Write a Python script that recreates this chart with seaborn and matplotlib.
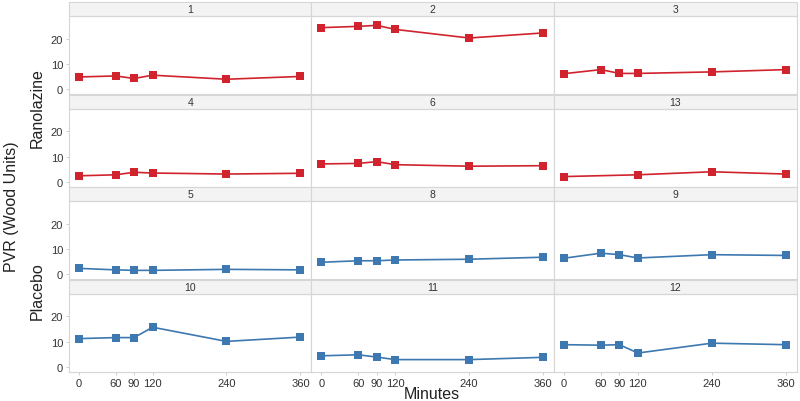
import seaborn as sns
import matplotlib.pyplot as plt
import pandas as pd
from matplotlib.patches import Rectangle

sns.set_style('white')
plt.rcParams['font.family'] = ['Liberation Sans', 'DejaVu Sans']

# Data
minutes = [0, 60, 90, 120, 240, 360]
minutes_13 = [0, 120, 240, 360]

ranolazine_patients = ['1', '2', '3', '4', '6', '13']
placebo_patients = ['5', '8', '9', '10', '11', '12']

pvr_1 = [4.9, 5.3, 4.3, 5.6, 4.0, 5.1]
pvr_2 = [24.4, 24.9, 25.3, 23.7, 20.3, 22.3]
pvr_3 = [6.2, 7.8, 6.3, 6.3, 6.9, 7.8]
pvr_4 = [2.4, 2.8, 3.8, 3.5, 3.1, 3.4]
pvr_6 = [7.1, 7.3, 8.0, 6.8, 6.2, 6.4]
pvr_13 = [2.1, 2.8, 4.0, 3.1]
pvr_5 = [2.4, 1.8, 1.6, 1.6, 2.0, 1.8]
pvr_8 = [4.8, 5.4, 5.4, 5.7, 6.0, 6.8]
pvr_9 = [6.4, 8.4, 7.8, 6.5, 7.8, 7.5]
pvr_10 = [11.2, 11.6, 11.6, 15.7, 10.1, 11.8]
pvr_11 = [4.4, 4.8, 3.9, 2.9, 2.9, 3.8]
pvr_12 = [8.8, 8.6, 8.8, 5.5, 9.4, 8.8]

panel_order = ['1', '2', '3', '4', '6', '13', '5', '8', '9', '10', '11', '12']

series = {
    '1': (minutes, pvr_1), '2': (minutes, pvr_2), '3': (minutes, pvr_3),
    '4': (minutes, pvr_4), '6': (minutes, pvr_6), '13': (minutes_13, pvr_13),
    '5': (minutes, pvr_5), '8': (minutes, pvr_8), '9': (minutes, pvr_9),
    '10': (minutes, pvr_10), '11': (minutes, pvr_11), '12': (minutes, pvr_12),
}

rows = []
for pid, (xs, ys) in series.items():
    treat = 'Ranolazine' if pid in ranolazine_patients else 'Placebo'
    for x, y in zip(xs, ys):
        rows.append({'Patient': pid, 'Minutes': x, 'PVR': y, 'Treatment': treat})
df = pd.DataFrame(rows)

palette = {'Ranolazine': '#d0232e', 'Placebo': '#3d78b0'}

g = sns.relplot(
    data=df, x='Minutes', y='PVR',
    col='Patient', col_wrap=3, col_order=panel_order,
    hue='Treatment', palette=palette,
    kind='line', marker='s', markersize=6, markeredgewidth=0,
    linewidth=1.2, legend=False, height=1, aspect=3,
    facet_kws=dict(sharex=True, sharey=True),
)

fig = g.figure
fig.set_size_inches(8, 4.02)
fig.subplots_adjust(left=0.086, right=0.996, top=1 - 17 / 402,
                    bottom=1 - 373 / 402, wspace=0, hspace=0.18)

g.set_axis_labels('', '')
g.set_titles('')
head_h = 14 / 78.5
for i, (ax, pid) in enumerate(zip(g.axes.flat, panel_order)):
    ax.set_xlim(-16, 378)
    ax.set_ylim(-2, 29)
    ax.set_xticks(minutes)
    ax.set_yticks([0, 10, 20])
    ax.set_title('')
    for s in ax.spines.values():
        s.set_visible(True)
        s.set_color('#d6d6d6')
        s.set_linewidth(0.8)
    left_col = i % 3 == 0
    bottom_row = i >= 9
    ax.tick_params(axis='y', left=left_col, labelleft=left_col)
    ax.tick_params(axis='x', bottom=bottom_row, labelbottom=bottom_row)
    ax.tick_params(axis='both', length=2, width=0.6, color='#c8c8c8',
                   labelsize=8, labelcolor='#333333', pad=2)
    ax.add_patch(Rectangle((0, 1), 1, head_h, transform=ax.transAxes,
                           clip_on=False, facecolor='#f3f3f3',
                           edgecolor='#d6d6d6', linewidth=0.8))
    ax.text(0.5, 1 + head_h / 2, pid, transform=ax.transAxes,
            ha='center', va='center', fontsize=7.5, color='#333333')

fig.text(37 / 800, 1 - 108 / 402, 'Ranolazine', rotation=90,
         ha='center', va='center', fontsize=11.5, color='#222222')
fig.text(37 / 800, 1 - 291 / 402, 'Placebo', rotation=90,
         ha='center', va='center', fontsize=11.5, color='#222222')
fig.text(12 / 800, 1 - 207 / 402, 'PVR (Wood Units)', rotation=90,
         ha='center', va='center', fontsize=11.5, color='#222222')
fig.text(432 / 800, 1 - 395 / 402, 'Minutes',
         ha='center', va='center', fontsize=11.5, color='#222222')

fig.savefig('out.png', dpi=100)
